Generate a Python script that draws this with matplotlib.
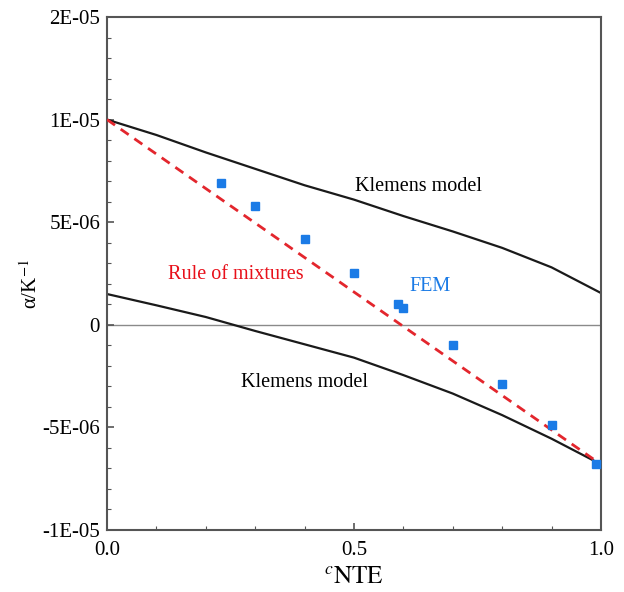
import matplotlib.pyplot as plt
import numpy as np
from matplotlib.ticker import MultipleLocator, FixedLocator, FuncFormatter

plt.rcParams['font.family'] = ['Liberation Serif', 'DejaVu Serif']
plt.rcParams['mathtext.fontset'] = 'stix'

# Klemens model curves (upper / lower), values in 1E-06 K^-1
c_klemens = [0.0, 0.1, 0.2, 0.3, 0.4, 0.5, 0.6, 0.7, 0.8, 0.9, 1.0]
klemens_upper = [10.0, 9.25, 8.4, 7.6, 6.8, 6.1, 5.3, 4.55, 3.75, 2.8, 1.55]
klemens_lower = [1.5, 0.95, 0.38, -0.3, -0.95, -1.6, -2.45, -3.35, -4.4, -5.55, -6.8]

# rule of mixtures end points
c_rom = [0.0, 1.0]
alpha_rom = [10.0, -6.8]

# FEM results
c_fem = [0.23, 0.30, 0.40, 0.50, 0.59, 0.60, 0.70, 0.80, 0.90, 0.99]
alpha_fem = [6.93, 5.8, 4.2, 2.54, 1.02, 0.83, -0.99, -2.88, -4.88, -6.78]

scale = 1e-6

fig = plt.figure(figsize=(6.24, 5.92), dpi=100)
ax = fig.add_axes([0.1715, 0.1047, 0.7915, 0.8666])

ax.axhline(0, color='#8a8a8a', lw=1.0, zorder=1)
ax.plot(c_klemens, np.array(klemens_upper) * scale, color='#1a1a1a', lw=1.6, zorder=2)
ax.plot(c_klemens, np.array(klemens_lower) * scale, color='#1a1a1a', lw=1.6, zorder=2)
ax.plot(c_rom, np.array(alpha_rom) * scale, color='#e3262d', lw=2.0,
        ls=(0, (3.5, 2.5)), zorder=3)
ax.plot(c_fem, np.array(alpha_fem) * scale, ls='none', marker='s', ms=6,
        color='#1b7be6', zorder=4)

fs = 14.5
ax.text(0.63, 6.75e-6, 'Klemens model', fontsize=fs, color='black', ha='center', va='center')
ax.text(0.40, -2.8e-6, 'Klemens model', fontsize=fs, color='black', ha='center', va='center')
ax.text(0.26, 2.45e-6, 'Rule of mixtures', fontsize=fs, color='#e8101a', ha='center', va='center')
ax.text(0.654, 1.85e-6, 'FEM', fontsize=fs, color='#1b7be6', ha='center', va='center')

ax.set_xlim(0, 1)
ax.set_ylim(-1e-5, 1.5e-5)
ax.xaxis.set_major_locator(FixedLocator([0.0, 0.5, 1.0]))
ax.xaxis.set_minor_locator(MultipleLocator(0.1))
ax.xaxis.set_major_formatter(FuncFormatter(lambda v, p: '%.1f' % v))
ax.yaxis.set_major_locator(MultipleLocator(5e-6))
ax.yaxis.set_minor_locator(MultipleLocator(1e-6))


def excel_fmt(v, p):
    # Excel "0E+00" style: 1.5E-05 shows as 2E-05
    if abs(v) < 1e-12:
        return '0'
    return '{:.0E}'.format(v)


ax.yaxis.set_major_formatter(FuncFormatter(excel_fmt))

for s in ax.spines.values():
    s.set_color('#555555')
    s.set_linewidth(1.5)
ax.tick_params(axis='both', which='both', direction='in', colors='#555555',
               labelcolor='black', labelsize=15, top=False, right=False)
ax.tick_params(which='major', length=5, width=1.2)
ax.tick_params(which='minor', length=3, width=0.8)
ax.tick_params(axis='x', pad=8)
ax.tick_params(axis='y', pad=5)

ax.set_xlabel(r'$^{c}\mathrm{NTE}$', fontsize=18, labelpad=4)
ax.set_ylabel('α/K$^{-1}$', fontsize=15)
ax.yaxis.set_label_coords(-0.132, 0.48)

fig.savefig('out.png', dpi=100)
